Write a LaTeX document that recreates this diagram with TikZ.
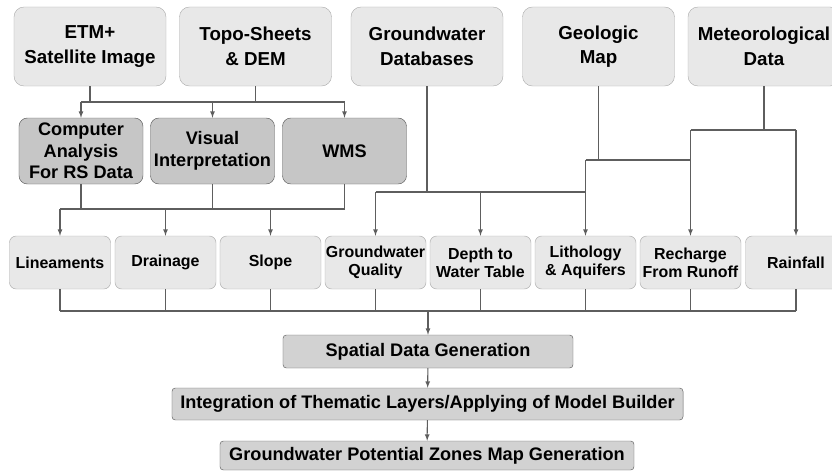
\documentclass[tikz,border=0pt]{standalone}
\usepackage{fontspec}
\setmainfont{Liberation Sans}
\usepackage{tikz}
\usetikzlibrary{arrows}
\definecolor{gray100}{HTML}{E8E8E8}
\definecolor{gray200}{HTML}{D2D2D2}
\definecolor{gray300}{HTML}{C6C6C6}
\definecolor{gray400}{HTML}{ADADAD}
\definecolor{gray600}{HTML}{5E5E5E}
\tikzstyle{source}=[rectangle, rounded corners=3mm, draw=gray400, fill=gray100, minimum width=4.56cm, minimum height=2.37cm, align=center, inner sep=0pt, font={\fontsize{16}{21}\selectfont\bfseries}]
\tikzstyle{process}=[rectangle, rounded corners=2.5mm, draw=gray600, fill=gray300, minimum width=3.72cm, minimum height=1.98cm, align=center, inner sep=0pt, font={\fontsize{15.5}{18.3}\selectfont\bfseries}]
\tikzstyle{layer}=[rectangle, rounded corners=2mm, draw=gray400, fill=gray100, minimum width=3.03cm, minimum height=1.59cm, align=center, inner sep=0pt, font={\fontsize{13.6}{15.6}\selectfont\bfseries}]
\tikzstyle{stage}=[rectangle, rounded corners=1mm, draw=gray600, fill=gray200, inner sep=0pt, font={\fontsize{15.5}{18}\selectfont\bfseries}]
\tikzstyle{link}=[draw=gray600, line width=0.9pt]
\tikzstyle{arrow}=[link, -latex]

\begin{document}
\begin{tikzpicture}[x=0.03cm, y=-0.03cm]
			\useasboundingbox (0,0) rectangle (832,472);
			% data sources
			\node[source] (etm) at (90,46.5) {ETM+\\Satellite Image};
			\node[source] (topo) at (255.5,46.5) {Topo-Sheets\\\& DEM};
			\node[source] (gwdb) at (427,46.5) {Groundwater\\Databases};
			\node[source] (geo) at (598.5,46.5) {Geologic\\Map};
			\node[source] (met) at (764,46.5) {Meteorological\\Data};
			% processing
			\node[process] (comp) at (81,151) {Computer\\Analysis\\For RS Data};
			\node[process] (visual) at (212.5,151) {Visual\\Interpretation};
			\node[process] (wms) at (344.5,151) {WMS};
			% thematic layers
			\node[layer] (lin) at (60,262.5) {Lineaments};
			\node[layer] (drain) at (165.5,262.5) {Drainage};
			\node[layer] (slope) at (270.5,262.5) {Slope};
			\node[layer] (gwq) at (375.5,262.5) {Groundwater\\Quality};
			\node[layer] (depth) at (480.5,262.5) {Depth to\\Water Table};
			\node[layer] (lith) at (585.5,262.5) {Lithology\\\& Aquifers};
			\node[layer] (rech) at (690.5,262.5) {Recharge\\From Runoff};
			\node[layer] (rain) at (796,262.5) {Rainfall};
			% steps
			\node[stage, minimum width=8.7cm, minimum height=0.99cm] (spatial) at (428,351.5) {Spatial Data Generation};
			\node[stage, minimum width=15.33cm, minimum height=0.96cm] (integ) at (427.5,404) {Integration of Thematic Layers/Applying of Model Builder};
			\node[stage, minimum width=12.42cm, minimum height=0.87cm] (gp) at (427,455.5) {Groundwater Potential Zones Map Generation};
			% bus lines
			\coordinate (bus1) at (0,102);
			\coordinate (bus2) at (0,209);
			\coordinate (bus3) at (0,192);
			\coordinate (bus4) at (0,160);
			\coordinate (bus5) at (0,130);
			\coordinate (bus6) at (0,311);
			\path[link] (etm) -- (etm |- bus1) (topo) -- (topo |- bus1) (comp |- bus1) -- (wms |- bus1);
			\foreach \n in {comp,visual,wms} \path[arrow] (\n |- bus1) -- (\n);
			\path[link] (comp) -- (comp |- bus2) (visual) -- (visual |- bus2) (wms) -- (wms |- bus2) (lin |- bus2) -- (wms |- bus2);
			\foreach \n in {lin,drain,slope} \path[arrow] (\n |- bus2) -- (\n);
			\path[link] (gwdb) -- (gwdb |- bus3) (gwq |- bus3) -- (lith |- bus3);
			\foreach \n in {gwq,depth} \path[arrow] (\n |- bus3) -- (\n);
			\path[link] (geo) -- (geo |- bus4) (lith |- bus4) -- (rech |- bus4);
			\path[arrow] (lith |- bus4) -- (lith);
			\path[link] (met) -- (met |- bus5) (rech |- bus5) -- (rain |- bus5);
			\foreach \n in {rech,rain} \path[arrow] (\n |- bus5) -- (\n);
			\foreach \n in {lin,drain,slope,gwq,depth,lith,rech,rain} \path[link] (\n) -- (\n |- bus6);
			\path[link] (lin |- bus6) -- (rain |- bus6);
			\path[arrow] (spatial |- bus6) -- (spatial);
			\path[arrow] (spatial) -- (integ);
			\path[arrow] (integ) -- (gp);
		\end{tikzpicture}
\end{document}
